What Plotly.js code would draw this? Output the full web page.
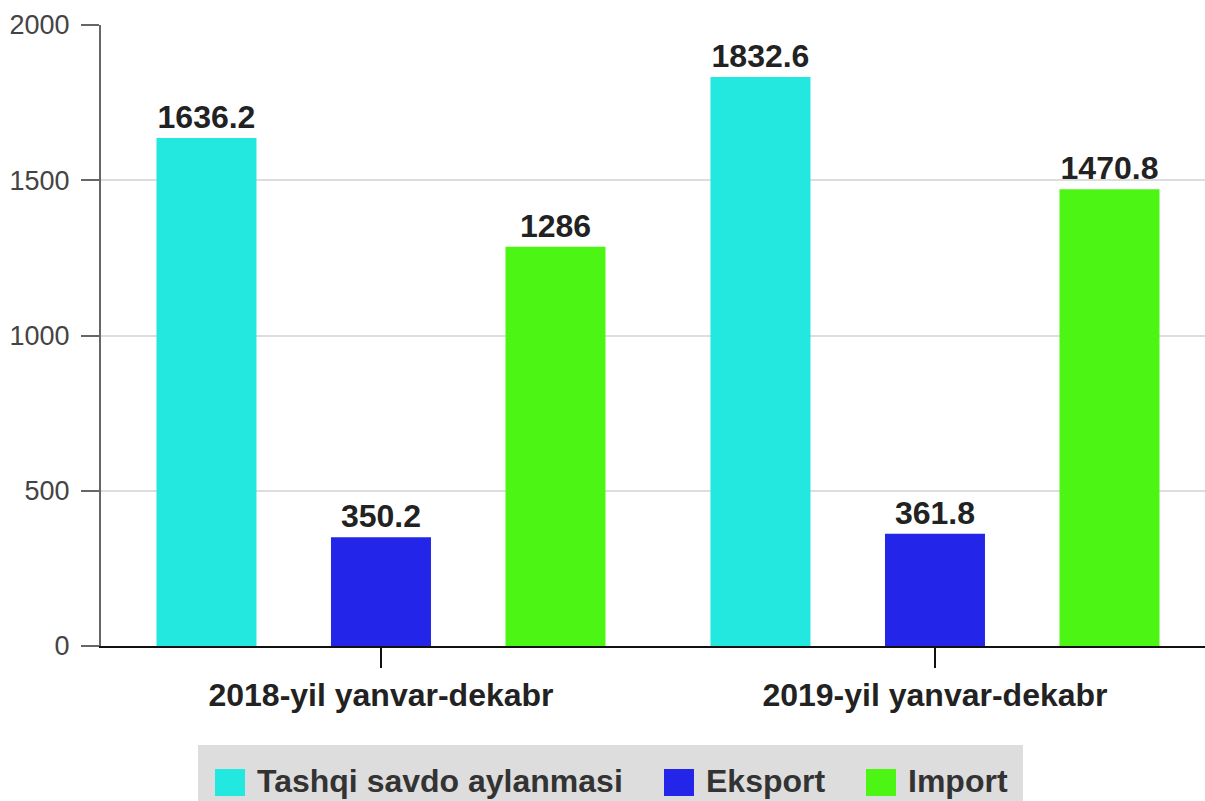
<!DOCTYPE html>
<html>
<head>
<meta charset="utf-8">
<script src="https://cdn.plot.ly/plotly-3.0.1.min.js"></script>
<style>html,body{margin:0;padding:0;background:#fff;}#chart{width:1205px;height:801px;}</style>
</head>
<body>
<div id="chart"></div>
<script>
const categories = ["2018-yil yanvar-dekabr", "2019-yil yanvar-dekabr"];
const seriesNames = ["Tashqi savdo aylanmasi", "Eksport", "Import"];
const turnover = [1636.2, 1832.6];
const exportVals = [350.2, 361.8];
const importVals = [1286, 1470.8];
const colors = ["#22e8e0", "#2326e8", "#4cf514"];

const FONT = "'Liberation Sans', Arial, sans-serif";
const allSeries = [turnover, exportVals, importVals];
const traces = allSeries.map((vals, i) => ({
  type: "bar",
  name: seriesNames[i],
  x: categories,
  y: vals,
  marker: {color: colors[i]},
  text: vals.map(v => String(v)),
  textposition: "outside",
  cliponaxis: false,
  textfont: {family: FONT, size: 32, color: "#222", weight: "bold"},
  hoverinfo: "none"
}));

// plot area in pixels (for the custom legend placement)
const L = 101, T = 25, W = 1104, H = 621;
const px = x => (x - L) / W;
const py = y => (T + H - y) / H;

const shapes = [{
  type: "rect", xref: "paper", yref: "paper", layer: "below",
  x0: px(198), x1: px(1023), y0: py(745), y1: py(815),
  fillcolor: "#dddddd", line: {width: 0}
}];
const annotations = [];
const swatchX = [215, 664, 866];
seriesNames.forEach((name, i) => {
  shapes.push({
    type: "rect", xref: "paper", yref: "paper",
    x0: px(swatchX[i]), x1: px(swatchX[i] + 30), y0: py(796), y1: py(769),
    fillcolor: colors[i], line: {width: 0}
  });
  annotations.push({
    xref: "paper", yref: "paper", x: px(swatchX[i] + 40), y: py(781),
    xanchor: "left", yanchor: "middle", showarrow: false,
    text: name, font: {family: FONT, size: 32, color: "#333", weight: "bold"}
  });
});

const layout = {
  width: 1205, height: 801,
  margin: {l: L, r: 0, t: T, b: 801 - T - H},
  paper_bgcolor: "#fff", plot_bgcolor: "#fff",
  font: {family: FONT},
  barmode: "group",
  bargap: 0.055,
  bargroupgap: 0.427,
  showlegend: false,
  shapes: shapes,
  annotations: annotations,
  xaxis: {
    type: "category",
    range: [-0.5054, 1.4874],
    showline: true, linecolor: "#111", linewidth: 2,
    ticks: "outside", ticklen: 20, tickcolor: "#111", tickwidth: 2,
    tickfont: {family: FONT, size: 32, color: "#222", weight: "bold"},
    showgrid: false
  },
  yaxis: {
    range: [0, 2000],
    dtick: 500,
    showline: true, linecolor: "#666", linewidth: 2,
    ticks: "outside", ticklen: 18, tickcolor: "#666", tickwidth: 2,
    ticklabelstandoff: 6,
    tickfont: {family: FONT, size: 27, color: "#444"},
    gridcolor: "#dddddd", gridwidth: 2,
    zeroline: false
  }
};

Plotly.newPlot("chart", traces, layout, {displayModeBar: false, staticPlot: true});
</script>
</body>
</html>
